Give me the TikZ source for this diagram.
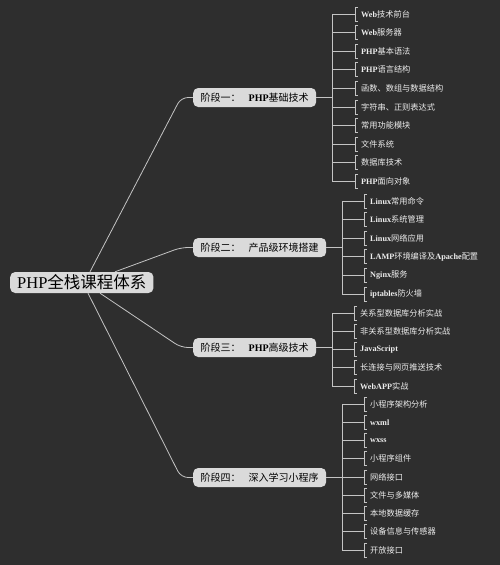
\documentclass[tikz,border=0pt]{standalone}
\usepackage{fontspec}
\setmainfont{Liberation Serif}
\newfontfamily\cjk{Noto Sans CJK SC}
\newcommand\C[1]{{\cjk\mdseries #1}}
\definecolor{bg}{HTML}{2E2E2E}
\definecolor{linec}{HTML}{C4C4C4}
\definecolor{nodefill}{HTML}{DADADA}
\definecolor{leaftext}{HTML}{EDEDED}
\begin{document}
\begin{tikzpicture}[x=1pt,y=-1pt,
  conn/.style={draw=linec, line width=0.8pt},
  rootbox/.style={fill=nodefill, rounded corners=5pt, anchor=west, minimum height=21pt, inner xsep=7pt, inner ysep=0pt, font=\fontsize{16.5}{18}\selectfont, text=black},
  stage/.style={fill=nodefill, rounded corners=5pt, anchor=west, minimum height=19pt, inner xsep=7.5pt, inner ysep=0pt, font=\fontsize{10}{12}\selectfont\bfseries, text=black},
  leaf/.style={anchor=west, inner xsep=6pt, inner ysep=0pt, text=leaftext, font=\fontsize{8.2}{10}\selectfont\bfseries}]
\fill[bg] (0,0) rectangle (500,565);
\useasboundingbox (0,0) rectangle (500,565);

\node[rootbox] (root) at (10,282.5) {PHP\C{全栈课程体系}};
\node[stage] (s1) at (193,97.5) {\C{阶段一：}\hspace{8pt}PHP\C{基础技术}};
\node[stage] (s2) at (193,247.5) {\C{阶段二：}\hspace{8pt}\C{产品级环境搭建}};
\node[stage] (s3) at (193,347.5) {\C{阶段三：}\hspace{8pt}PHP\C{高级技术}};
\node[stage] (s4) at (193,477.5) {\C{阶段四：}\hspace{8pt}\C{深入学习小程序}};

\draw[conn, rounded corners=7pt] ([xshift=80pt]root.north west) -- ([xshift=-12pt]s1.west) -- (s1.west);
\draw[conn, rounded corners=7pt] ([xshift=105pt]root.north west) -- ([xshift=-12pt]s2.west) -- (s2.west);
\draw[conn, rounded corners=7pt] ([xshift=90pt]root.south west) -- ([xshift=-12pt]s3.west) -- (s3.west);
\draw[conn, rounded corners=7pt] ([xshift=78pt]root.south west) -- ([xshift=-12pt]s4.west) -- (s4.west);

% stage 1
\coordinate (b1) at (332,14);
\foreach \t [count=\i] in {{Web\C{技术前台}},{Web\C{服务器}},{PHP\C{基本语法}},{PHP\C{语言结构}},{\C{函数、数组与数据结构}},{\C{字符串、正则表达式}},{\C{常用功能模块}},{\C{文件系统}},{\C{数据库技术}},{PHP\C{面向对象}}}{
  \node[leaf] (a\i) at (355,{14+18.6*(\i-1)}) {\t};
  \draw[conn] ([shift={(3,-7)}]a\i.west) -- ([shift={(0,-7)}]a\i.west) -- ([shift={(0,7)}]a\i.west) -- ([shift={(3,7)}]a\i.west);
  \draw[conn] (b1 |- a\i.west) -- (a\i.west);
}
\draw[conn] (b1 |- a1.west) -- (b1 |- a10.west);
\draw[conn] (s1.east) -- (b1 |- s1.east);

% stage 2
\coordinate (b2) at (342,201);
\foreach \t [count=\i] in {{Linux\C{常用命令}},{Linux\C{系统管理}},{Linux\C{网络应用}},{LAMP\C{环境编译及}Apache\C{配置}},{Nginx\C{服务}},{iptables\C{防火墙}}}{
  \node[leaf] (c\i) at (364,{201+18.6*(\i-1)}) {\t};
  \draw[conn] ([shift={(3,-7)}]c\i.west) -- ([shift={(0,-7)}]c\i.west) -- ([shift={(0,7)}]c\i.west) -- ([shift={(3,7)}]c\i.west);
  \draw[conn] (b2 |- c\i.west) -- (c\i.west);
}
\draw[conn] (b2 |- c1.west) -- (b2 |- c6.west);
\draw[conn] (s2.east) -- (b2 |- s2.east);

% stage 3
\coordinate (b3) at (332,313);
\foreach \t [count=\i] in {{\C{关系型数据库分析实战}},{\C{非关系型数据库分析实战}},{JavaScript},{\C{长连接与网页推送技术}},{WebAPP\C{实战}}}{
  \node[leaf] (d\i) at (354,{313+18.25*(\i-1)}) {\t};
  \draw[conn] ([shift={(3,-7)}]d\i.west) -- ([shift={(0,-7)}]d\i.west) -- ([shift={(0,7)}]d\i.west) -- ([shift={(3,7)}]d\i.west);
  \draw[conn] (b3 |- d\i.west) -- (d\i.west);
}
\draw[conn] (b3 |- d1.west) -- (b3 |- d5.west);
\draw[conn] (s3.east) -- (b3 |- s3.east);

% stage 4
\coordinate (b4) at (342,404);
\foreach \t [count=\i] in {{\C{小程序架构分析}},{wxml},{wxss},{\C{小程序组件}},{\C{网络接口}},{\C{文件与多媒体}},{\C{本地数据缓存}},{\C{设备信息与传感器}},{\C{开放接口}}}{
  \node[leaf] (e\i) at (364,{404+18.25*(\i-1)}) {\t};
  \draw[conn] ([shift={(3,-7)}]e\i.west) -- ([shift={(0,-7)}]e\i.west) -- ([shift={(0,7)}]e\i.west) -- ([shift={(3,7)}]e\i.west);
  \draw[conn] (b4 |- e\i.west) -- (e\i.west);
}
\draw[conn] (b4 |- e1.west) -- (b4 |- e9.west);
\draw[conn] (s4.east) -- (b4 |- s4.east);
\end{tikzpicture}
\end{document}
